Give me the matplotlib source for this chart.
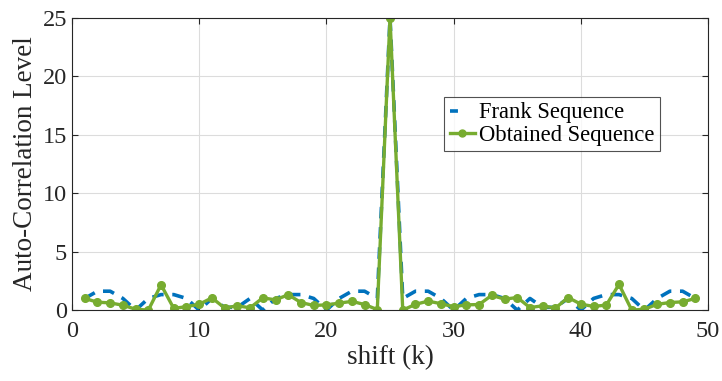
import matplotlib
matplotlib.use("Agg")
import matplotlib.pyplot as plt
from matplotlib.lines import Line2D

# shift index
shift = list(range(1, 50))

# Frank sequence auto-correlation (symmetric about 25)
frank_left = [1.0, 1.62, 1.62, 1.0, 0.0, 1.0, 1.33, 1.33, 1.0, 0.0,
              1.0, 0.24, 0.24, 1.0, 0.0, 1.0, 1.33, 1.33, 1.0, 0.0,
              1.0, 1.62, 1.62, 1.0]
frank = frank_left + [25.0] + frank_left[::-1]

# obtained sequence auto-correlation
obtained = [1.0, 0.68, 0.62, 0.42, 0.08, 0.0, 2.17, 0.15, 0.3, 0.5,
            1.05, 0.18, 0.37, 0.2, 1.05, 0.88, 1.32, 0.65, 0.4, 0.45,
            0.6, 0.75, 0.48, 0.05, 25.0, 0.0, 0.5, 0.77, 0.55, 0.3,
            0.45, 0.48, 1.27, 0.94, 1.08, 0.22, 0.37, 0.17, 1.08, 0.51,
            0.32, 0.43, 2.2, 0.0, 0.08, 0.5, 0.65, 0.71, 1.0]

plt.rcParams["font.family"] = ["Liberation Serif", "DejaVu Serif"]

fig = plt.figure(figsize=(7.22, 3.81), dpi=100)
ax = fig.add_axes([0.0997, 0.186, 0.881, 0.767])

blue = "#0072BD"
green = "#77AC30"

ax.plot(shift, frank, color=blue, linestyle=(0, (3.2, 2.4)), linewidth=2.6,
        label="Frank Sequence")
ax.plot(shift, obtained, color=green, linestyle="-", linewidth=2.4,
        marker="o", markersize=5.5, label="Obtained Sequence")

ax.set_xlim(0, 50)
ax.set_ylim(0, 25)
ax.set_xticks(range(0, 51, 10))
ax.set_yticks(range(0, 26, 5))
ax.grid(True, color="#dcdcdc", linewidth=0.8)
ax.set_axisbelow(True)

ax.tick_params(direction="in", top=True, right=True, length=4,
               labelsize=17.5, colors="#262626", width=0.8)
ax.tick_params(axis="x", pad=8)
for s in ax.spines.values():
    s.set_color("#262626")
    s.set_linewidth(0.8)

ax.set_xlabel("shift (k)", fontsize=19.5, color="#262626", labelpad=2)
ax.set_ylabel("Auto-Correlation Level", fontsize=19.5, color="#262626",
              labelpad=3)

handles = [
    Line2D([], [], color=blue, linestyle=(0, (2.2, 10)), linewidth=2.6),
    Line2D([], [], color=green, linestyle="-", linewidth=2.4, marker="o",
           markersize=5),
]
leg = ax.legend(handles, ["Frank Sequence", "Obtained Sequence"],
                loc="upper left", bbox_to_anchor=(0.585, 0.73),
                fontsize=16.3, frameon=True, fancybox=False,
                edgecolor="#262626", handlelength=1.1, handletextpad=0.2,
                borderpad=0.25, labelspacing=0.05, borderaxespad=0)
leg.get_frame().set_linewidth(0.8)

fig.savefig("out.png", dpi=100)
